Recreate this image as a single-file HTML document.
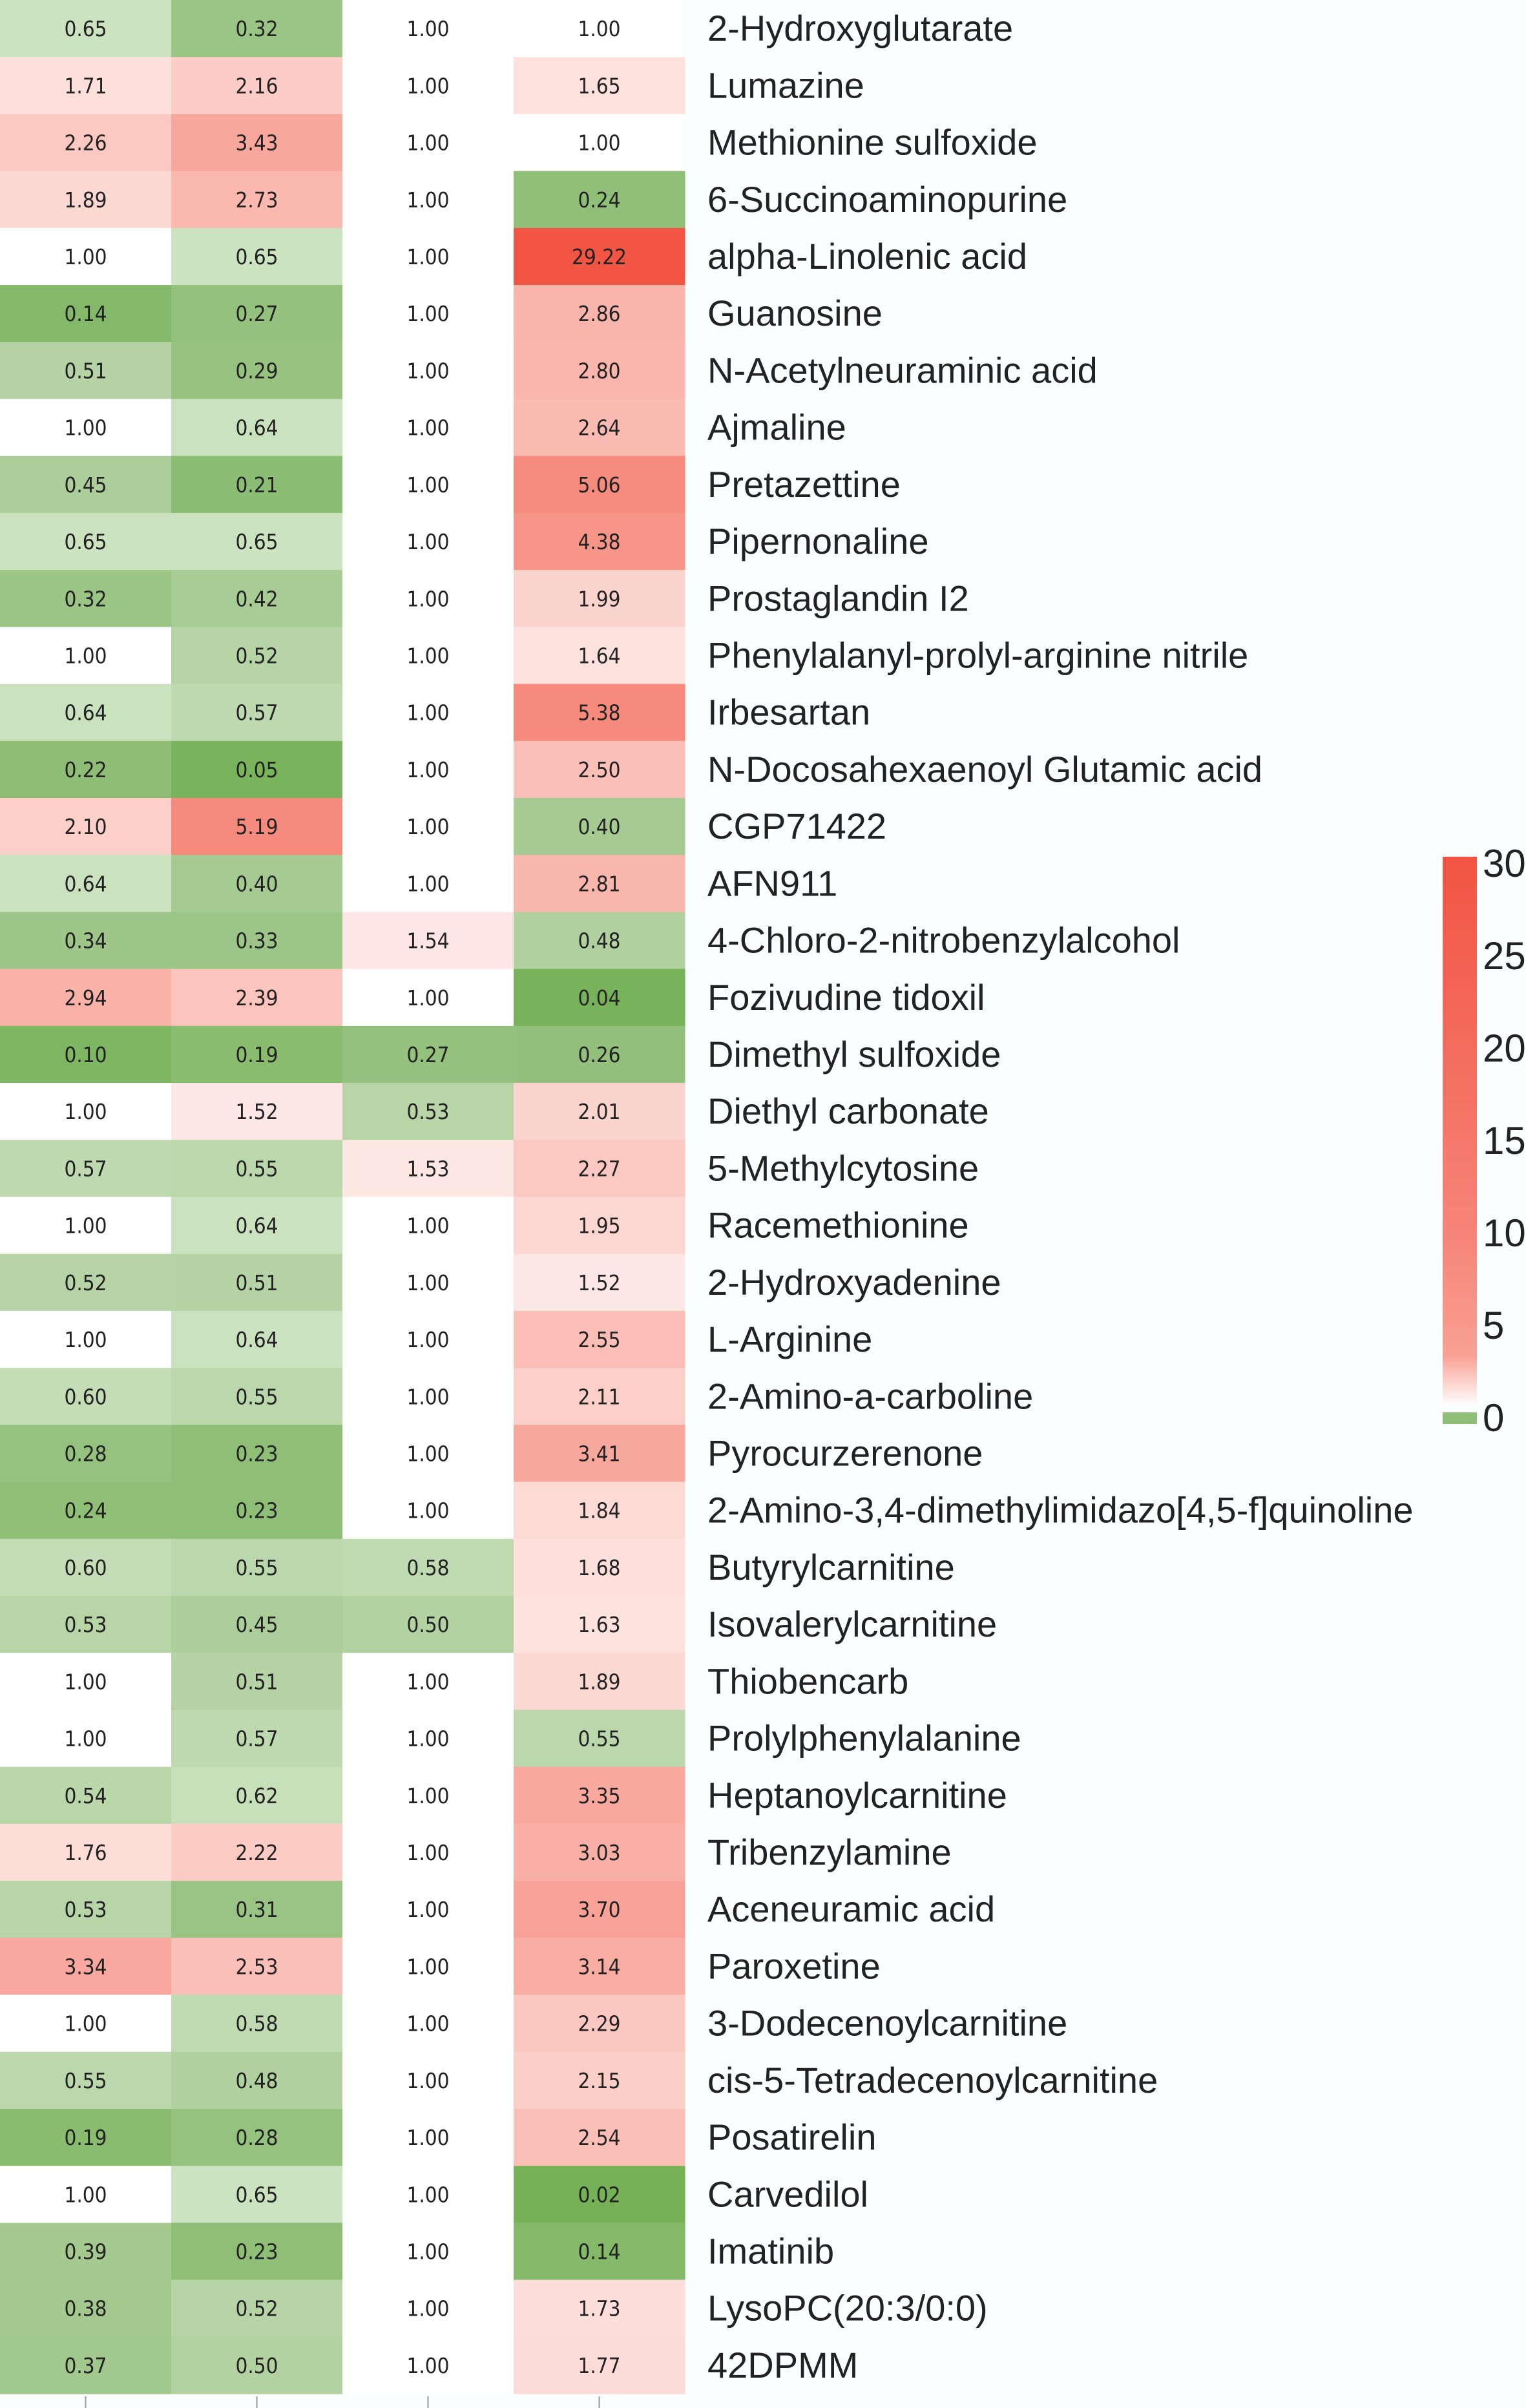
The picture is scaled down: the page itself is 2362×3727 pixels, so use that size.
<!DOCTYPE html>
<html><head><meta charset="utf-8">
<style>
html,body{margin:0;padding:0;background:#fbfefe;}
svg{display:block;}
</style></head>
<body>
<svg id="chart" width="2362" height="3727" xmlns="http://www.w3.org/2000/svg" style="background:#fbfefe">
<g id="cells"></g>
<g id="labels"></g>
<g id="ticks"></g>
<g id="cbar"></g>
</svg>
<script>
const rowNames = ["2-Hydroxyglutarate","Lumazine","Methionine sulfoxide","6-Succinoaminopurine","alpha-Linolenic acid","Guanosine","N-Acetylneuraminic acid","Ajmaline","Pretazettine","Pipernonaline","Prostaglandin I2","Phenylalanyl-prolyl-arginine nitrile","Irbesartan","N-Docosahexaenoyl Glutamic acid","CGP71422","AFN911","4-Chloro-2-nitrobenzylalcohol","Fozivudine tidoxil","Dimethyl sulfoxide","Diethyl carbonate","5-Methylcytosine","Racemethionine","2-Hydroxyadenine","L-Arginine","2-Amino-a-carboline","Pyrocurzerenone","2-Amino-3,4-dimethylimidazo[4,5-f]quinoline","Butyrylcarnitine","Isovalerylcarnitine","Thiobencarb","Prolylphenylalanine","Heptanoylcarnitine","Tribenzylamine","Aceneuramic acid","Paroxetine","3-Dodecenoylcarnitine","cis-5-Tetradecenoylcarnitine","Posatirelin","Carvedilol","Imatinib","LysoPC(20:3/0:0)","42DPMM"];
const col1 = [0.65,1.71,2.26,1.89,1.00,0.14,0.51,1.00,0.45,0.65,0.32,1.00,0.64,0.22,2.10,0.64,0.34,2.94,0.10,1.00,0.57,1.00,0.52,1.00,0.60,0.28,0.24,0.60,0.53,1.00,1.00,0.54,1.76,0.53,3.34,1.00,0.55,0.19,1.00,0.39,0.38,0.37];
const col2 = [0.32,2.16,3.43,2.73,0.65,0.27,0.29,0.64,0.21,0.65,0.42,0.52,0.57,0.05,5.19,0.40,0.33,2.39,0.19,1.52,0.55,0.64,0.51,0.64,0.55,0.23,0.23,0.55,0.45,0.51,0.57,0.62,2.22,0.31,2.53,0.58,0.48,0.28,0.65,0.23,0.52,0.50];
const col3 = [1.00,1.00,1.00,1.00,1.00,1.00,1.00,1.00,1.00,1.00,1.00,1.00,1.00,1.00,1.00,1.00,1.54,1.00,0.27,0.53,1.53,1.00,1.00,1.00,1.00,1.00,1.00,0.58,0.50,1.00,1.00,1.00,1.00,1.00,1.00,1.00,1.00,1.00,1.00,1.00,1.00,1.00];
const col4 = [1.00,1.65,1.00,0.24,29.22,2.86,2.80,2.64,5.06,4.38,1.99,1.64,5.38,2.50,0.40,2.81,0.48,0.04,0.26,2.01,2.27,1.95,1.52,2.55,2.11,3.41,1.84,1.68,1.63,1.89,0.55,3.35,3.03,3.70,3.14,2.29,2.15,2.54,0.02,0.14,1.73,1.77];
const legendTicks = [0,5,10,15,20,25,30];

const NS="http://www.w3.org/2000/svg";
const cols=[col1,col2,col3,col4];
const cellW=265, gridTop=0, gridBottom=3705, rowH=(gridBottom-gridTop)/rowNames.length;
const xCol = i => i*cellW;
const yRow = j => gridTop + j*rowH;

const redStops=[[1,[255,255,255]],[1.5,[253,232,229]],[2,[252,212,206]],[3,[249,176,166]],[5,[246,140,126]],[30,[242,84,66]]];
const greenStops=[[1,[255,255,255]],[0.65,[204,227,192]],[0.5,[179,210,162]],[0.3,[152,195,130]],[0.1,[126,182,98]],[0.0,[116,176,86]]];
function interp(stops,v,log){
  for(let k=0;k<stops.length-1;k++){
    const a=stops[k],b=stops[k+1];
    const lo=Math.min(a[0],b[0]),hi=Math.max(a[0],b[0]);
    if(v>=lo&&v<=hi){
      let t=log?(Math.log(v)-Math.log(a[0]))/(Math.log(b[0])-Math.log(a[0])):(v-a[0])/(b[0]-a[0]);
      const c=a[1].map((x,i)=>Math.round(x+(b[1][i]-x)*t));
      return `rgb(${c.join(',')})`;
    }
  }
  const last=stops[stops.length-1][1];return `rgb(${last.join(',')})`;
}
function color(v){ if(v>=1) return interp(redStops,Math.min(v,30),true); return interp(greenStops,Math.max(v,0),false); }

const gC=document.getElementById('cells'), gL=document.getElementById('labels'), gT=document.getElementById('ticks'), gB=document.getElementById('cbar');
cols.forEach((col,i)=>{
  col.forEach((v,j)=>{
    const r=document.createElementNS(NS,'rect');
    r.setAttribute('x',xCol(i));r.setAttribute('y',yRow(j));
    r.setAttribute('width',cellW+0.5);r.setAttribute('height',rowH+0.5);
    r.setAttribute('fill',color(v));
    
    
    gC.appendChild(r);
    const t=document.createElementNS(NS,'text');
    t.setAttribute('x',xCol(i)+cellW/2);t.setAttribute('y',yRow(j)+rowH/2+12);
    t.setAttribute('text-anchor','middle');
    t.setAttribute('font-family','DejaVu Sans Condensed, DejaVu Sans, Liberation Sans, sans-serif');
    t.setAttribute('font-size','33');t.setAttribute('fill','#222');
    t.textContent=v.toFixed(2);
    
    
    gC.appendChild(t);
  });
  const l=document.createElementNS(NS,'line');
  l.setAttribute('x1',xCol(i)+cellW/2);l.setAttribute('x2',xCol(i)+cellW/2);
  l.setAttribute('y1',3709);l.setAttribute('y2',3727);
  l.setAttribute('stroke','#999');l.setAttribute('stroke-width','2');
  
  
  gT.appendChild(l);
});
rowNames.forEach((n,j)=>{
  const t=document.createElementNS(NS,'text');
  t.setAttribute('x',1095);t.setAttribute('y',yRow(j)+rowH/2+19);
  t.setAttribute('font-family','Liberation Sans, sans-serif');
  t.setAttribute('font-size','56');t.setAttribute('fill','#222');
  t.textContent=n;
  
  
  gL.appendChild(t);
});
const cbX=2233,cbW=53,cbTop=1326,cbRedBot=2174,y0=2193,y30=1335;
const cbY=v=>y0+(y30-y0)*v/30;
const defs=document.createElementNS(NS,'defs');
defs.innerHTML='<linearGradient id="rg" x1="0" y1="1" x2="0" y2="0"><stop offset="0" stop-color="#fffcfb"/><stop offset="0.09" stop-color="#f9a093"/><stop offset="0.3" stop-color="#f68579"/><stop offset="1" stop-color="#f25442"/></linearGradient>';
gB.appendChild(defs);
const rb=document.createElementNS(NS,'rect');
rb.setAttribute('x',cbX);rb.setAttribute('y',cbTop);rb.setAttribute('width',cbW);rb.setAttribute('height',cbRedBot-cbTop);
rb.setAttribute('fill','url(#rg)');


gB.appendChild(rb);
const gb=document.createElementNS(NS,'rect');
gb.setAttribute('x',cbX);gb.setAttribute('y',2186);gb.setAttribute('width',cbW);gb.setAttribute('height',18);
gb.setAttribute('fill','#8fbe78');


gB.appendChild(gb);
legendTicks.forEach(v=>{
  const t=document.createElementNS(NS,'text');
  t.setAttribute('x',2295);t.setAttribute('y',cbY(v)+22);
  t.setAttribute('font-family','Liberation Sans, sans-serif');
  t.setAttribute('font-size','60');t.setAttribute('fill','#222');
  t.textContent=String(v);
  
  
  gB.appendChild(t);
});
</script>
</body></html>
